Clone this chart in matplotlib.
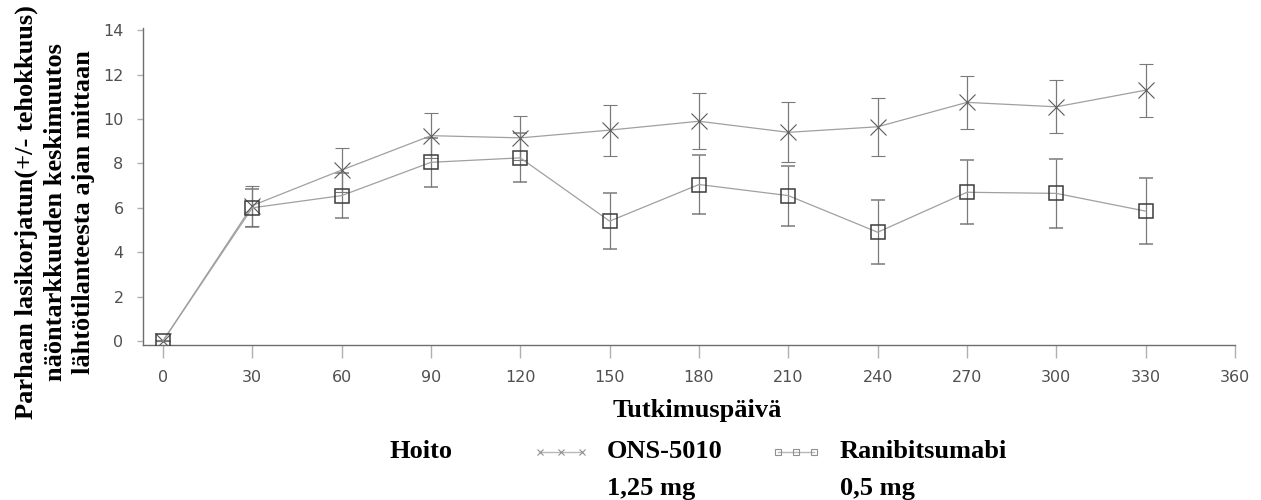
import matplotlib
matplotlib.use("Agg")
import matplotlib.pyplot as plt
from matplotlib.lines import Line2D

# Data
days = [0, 30, 60, 90, 120, 150, 180, 210, 240, 270, 300, 330]
ons_mean = [0, 6.1, 7.7, 9.25, 9.15, 9.5, 9.9, 9.4, 9.65, 10.75, 10.55, 11.3]
ons_err = [0, 0.9, 1.0, 1.0, 1.0, 1.15, 1.25, 1.35, 1.3, 1.2, 1.2, 1.2]
rani_mean = [0, 6.0, 6.55, 8.05, 8.25, 5.4, 7.05, 6.55, 4.9, 6.7, 6.65, 5.85]
rani_err = [0, 0.85, 1.0, 1.1, 1.1, 1.25, 1.35, 1.35, 1.45, 1.45, 1.55, 1.5]

x_ticks = list(range(0, 361, 30))
y_ticks = list(range(0, 15, 2))

W, H = 1261, 500
SERIF = ["Liberation Serif", "DejaVu Serif"]
LINE_C = "#a0a0a0"
MARK_C = "#5a5a5a"
ERR_C = "#7a7a7a"
AX_C = "#6e6e6e"


def fx(px):
    return px / W


def fy(py):
    return 1 - py / H


fig = plt.figure(figsize=(W / 100, H / 100), dpi=100)
ax = fig.add_axes([fx(143), fy(345), fx(1235) - fx(143), fy(28) - fy(345)])

ax.errorbar(days, ons_mean, yerr=ons_err, color=LINE_C, lw=0.9,
            marker="x", ms=11, mec=MARK_C, mew=0.8,
            ecolor=ERR_C, elinewidth=0.9, capsize=5, capthick=0.9, zorder=3)
ax.errorbar(days, rani_mean, yerr=rani_err, color=LINE_C, lw=0.9,
            marker="s", ms=10, mfc="none", mec="#3c3c3c", mew=1.1,
            ecolor=ERR_C, elinewidth=0.9, capsize=5, capthick=0.9, zorder=3)

ax.set_xlim(-6.7, 360)
ax.set_ylim(-0.18, 14.1)
ax.set_xticks(x_ticks)
ax.set_yticks(y_ticks)
for s in ["top", "right"]:
    ax.spines[s].set_visible(False)
for s in ["left", "bottom"]:
    ax.spines[s].set_color(AX_C)
    ax.spines[s].set_linewidth(1.0)
ax.tick_params(axis="x", length=9, width=1, color="#b0b0b0", pad=9,
               labelsize=11.5, labelcolor="#505050")
ax.tick_params(axis="y", length=4, width=1, color="#b0b0b0", pad=10,
               labelsize=11.5, labelcolor="#505050")

# y label (three centred lines)
fig.text(fx(55), fy(212), "Parhaan lasikorjatun(+/- tehokkuus)\nnäöntarkkuuden keskimuutos\nlähtötilanteesta ajan mittaan",
         rotation=90, ha="center", va="center", multialignment="center",
         family=SERIF, weight="bold", fontsize=19, linespacing=1.32)

fig.text(fx(697), fy(411), "Tutkimuspäivä", ha="center", va="center",
         family=SERIF, weight="bold", fontsize=19)

# legend row
fig.text(fx(390), fy(451), "Hoito", ha="left", va="center",
         family=SERIF, weight="bold", fontsize=19)
fig.text(fx(607), fy(440), "ONS-5010\n1,25 mg", ha="left", va="top",
         family=SERIF, weight="bold", fontsize=19, linespacing=1.8)
fig.text(fx(840), fy(440), "Ranibitsumabi\n0,5 mg", ha="left", va="top",
         family=SERIF, weight="bold", fontsize=19, linespacing=1.8)

fig.add_artist(Line2D([fx(540), fx(561), fx(582)], [fy(452)] * 3,
                      transform=fig.transFigure, color="#b8b8b8", lw=1,
                      marker="x", ms=5, mec="#909090", mew=0.8))
fig.add_artist(Line2D([fx(778), fx(796), fx(814)], [fy(452)] * 3,
                      transform=fig.transFigure, color="#b8b8b8", lw=1,
                      marker="s", ms=5, mfc="none", mec="#909090", mew=0.8))

fig.savefig("out.png", dpi=100)
